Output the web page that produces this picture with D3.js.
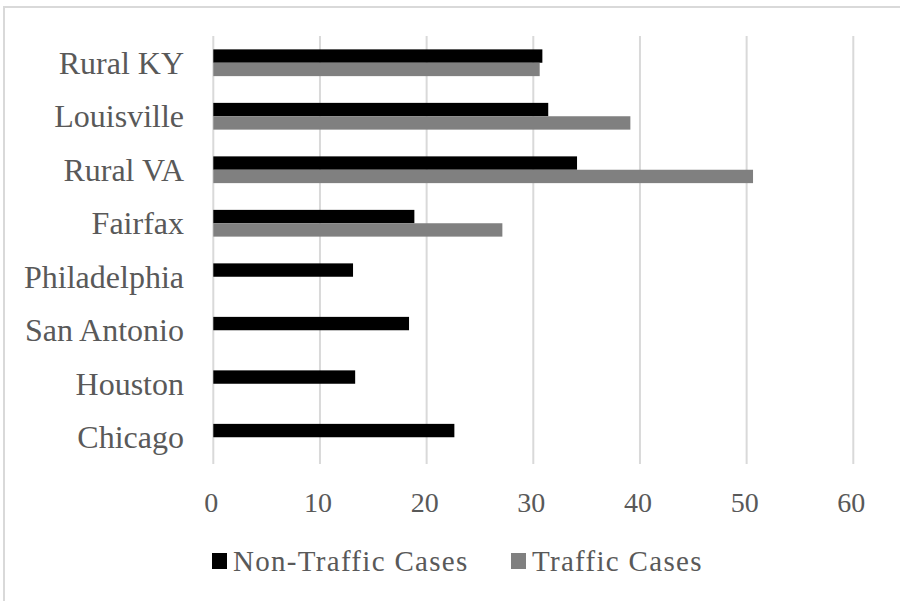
<!DOCTYPE html>
<html>
<head>
<meta charset="utf-8">
<script src="https://cdn.jsdelivr.net/npm/d3@7"></script>
<style>
  body { margin: 0; background: #fff; }
  text { font-family: "Liberation Serif", "Times New Roman", serif; fill: #595959; }
</style>
</head>
<body>
<svg width="900" height="601"></svg>
<script>
// chart data
var cities = ["Rural KY", "Louisville", "Rural VA", "Fairfax", "Philadelphia", "San Antonio", "Houston", "Chicago"];
var series = ["Non-Traffic Cases", "Traffic Cases"];
var nonTraffic = [30.85, 31.4, 34.1, 18.85, 13.1, 18.35, 13.3, 22.6];
var traffic = [30.6, 39.1, 50.6, 27.1, null, null, null, null];
var xTicks = [0, 10, 20, 30, 40, 50, 60];
var colors = ["#000000", "#808080"];

var svg = d3.select("svg");

// outer frame
svg.append("rect")
  .attr("x", 4).attr("y", 7)
  .attr("width", 900).attr("height", 600)
  .style("fill", "none")
  .style("stroke", "#d9d9d9")
  .style("stroke-width", 2);

var x = d3.scaleLinear().domain([0, 60]).range([213.3, 853.3]);
var y = d3.scaleBand().domain(cities).range([36, 464]).paddingInner(0.5).paddingOuter(0.25);
var ySub = d3.scaleBand().domain(series).range([0, y.bandwidth()]);
var color = d3.scaleOrdinal().domain(series).range(colors);

// gridlines
svg.append("g").selectAll("line")
  .data(xTicks)
  .join("line")
  .attr("x1", d => x(d)).attr("x2", d => x(d))
  .attr("y1", 36).attr("y2", 464)
  .style("stroke", "#d9d9d9")
  .style("stroke-width", 2);

var rows = cities.map(function(c, i) {
  return { city: c, values: [nonTraffic[i], traffic[i]] };
});

var groups = svg.append("g").selectAll("g")
  .data(rows)
  .join("g")
  .attr("transform", d => "translate(0," + y(d.city) + ")");

groups.selectAll("rect")
  .data(d => series.map((s, j) => ({ s: s, v: d.values[j] })).filter(e => e.v != null))
  .join("rect")
  .attr("x", x(0))
  .attr("y", d => ySub(d.s))
  .attr("width", d => x(d.v) - x(0))
  .attr("height", ySub.bandwidth())
  .style("fill", d => color(d.s));

// category labels
svg.append("g").selectAll("text")
  .data(cities)
  .join("text")
  .attr("x", 184)
  .attr("y", d => y(d) + y.bandwidth() / 2)
  .attr("dy", "0.35em")
  .style("text-anchor", "end")
  .style("font-size", "32px")
  .text(d => d);

// x tick labels
svg.append("g").selectAll("text")
  .data(xTicks)
  .join("text")
  .attr("x", d => x(d) - 2)
  .attr("y", 512)
  .style("text-anchor", "middle")
  .style("font-size", "28px")
  .text(d => d);

// legend
var legendX = [212, 511];
var legend = svg.append("g").selectAll("g")
  .data(series)
  .join("g")
  .attr("transform", (d, i) => "translate(" + legendX[i] + ",553)");
legend.append("rect")
  .attr("width", 15).attr("height", 16)
  .style("fill", d => color(d));
legend.append("text")
  .attr("x", 21)
  .attr("y", 17.5)
  .style("font-size", "29px")
  .style("letter-spacing", "1.3px")
  .text(d => d);
</script>
</body>
</html>
